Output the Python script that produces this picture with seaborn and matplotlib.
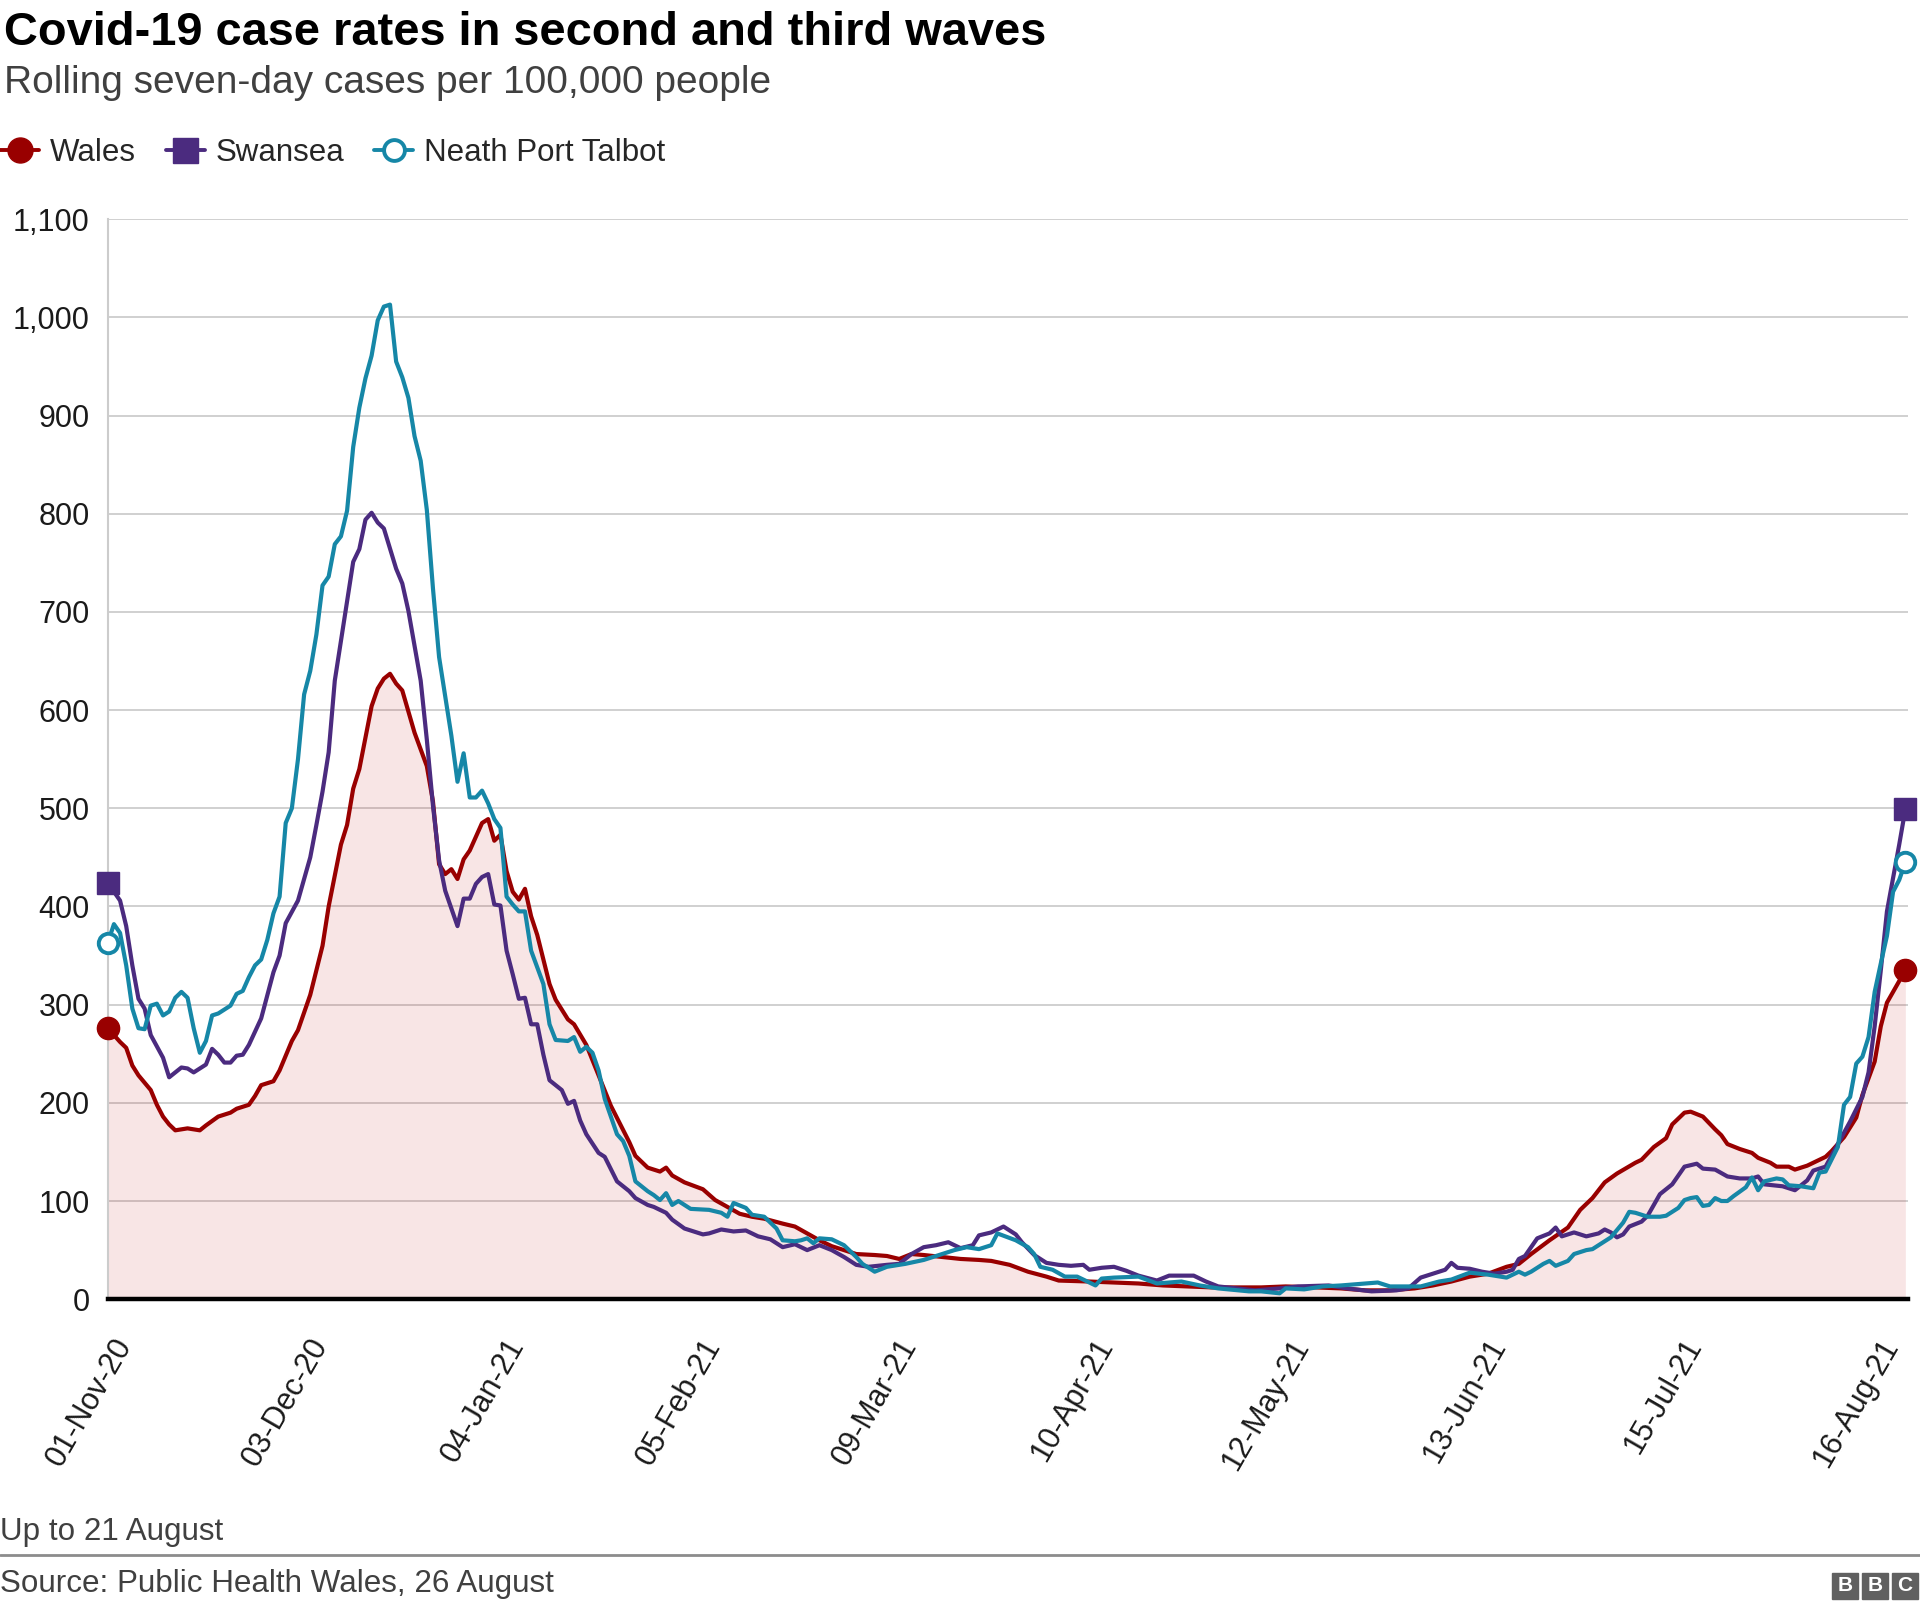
import pandas as pd
import seaborn as sns
import matplotlib.pyplot as plt
from matplotlib.lines import Line2D
from matplotlib.patches import Rectangle
from matplotlib.transforms import ScaledTranslation
import matplotlib.dates as mdates

# Data: day offsets from 01-Nov-20 and rolling 7-day rate
start_date = '2020-11-01'

wales_days = [0, 2, 3, 4, 5, 7, 8, 9, 10, 11, 13, 15, 16, 18, 20, 21, 23, 24, 25, 27,
              28, 30, 31, 33, 35, 36, 38, 39, 40, 41, 43, 44, 45, 46, 47, 48, 50, 52, 53, 54,
              55, 56, 57, 58, 59, 61, 62, 63, 64, 65, 66, 67, 68, 69, 70, 72, 73, 75, 76, 78,
              80, 82, 85, 86, 88, 90, 91, 92, 94, 97, 99, 101, 103, 105, 107, 110, 112, 114, 116, 118,
              120, 122, 125, 127, 129, 131, 133, 136, 139, 142, 144, 147, 150, 153, 155, 160, 164, 168, 172, 176,
              180, 184, 188, 192, 197, 201, 205, 209, 213, 216, 219, 222, 225, 228, 230, 232, 235, 238, 240, 242,
              244, 246, 249, 250, 252, 254, 255, 257, 258, 260, 262, 263, 264, 266, 268, 269, 271, 272, 274, 275,
              277, 279, 280, 281, 283, 285, 286, 288, 289, 290, 292, 293]
wales_rate = [276, 262, 256, 238, 228, 213, 198, 186, 178, 172, 174, 172, 177, 186, 190, 194, 198, 207, 218, 222,
              233, 263, 274, 310, 360, 400, 463, 483, 520, 540, 604, 622, 632, 637, 627, 620, 577, 543, 507, 443,
              433, 438, 428, 448, 457, 485, 489, 467, 473, 436, 415, 407, 418, 390, 371, 321, 305, 285, 280, 259,
              228, 197, 160, 146, 134, 130, 134, 126, 119, 112, 101, 94, 87, 84, 82, 77, 74, 67, 60, 54,
              50, 46, 45, 44, 41, 46, 45, 43, 41, 40, 39, 35, 28, 23, 19, 18, 17, 16, 14, 13,
              12, 12, 12, 13, 12, 11, 9, 9, 11, 14, 18, 23, 26, 33, 36, 46, 60, 73, 91, 103,
              119, 128, 139, 142, 155, 164, 178, 190, 191, 186, 173, 167, 158, 153, 149, 144, 139, 135, 135, 132,
              136, 142, 145, 151, 165, 185, 208, 242, 278, 302, 324, 335]

swansea_days = [0, 2, 3, 4, 5, 6, 7, 9, 10, 12, 13, 14, 16, 17, 18, 19, 20, 21, 22, 23,
                25, 27, 28, 29, 31, 33, 34, 35, 36, 37, 39, 40, 41, 42, 43, 44, 45, 47, 48, 49,
                51, 52, 53, 54, 55, 57, 58, 59, 60, 61, 62, 63, 64, 65, 66, 67, 68, 69, 70, 71,
                72, 74, 75, 76, 77, 78, 80, 81, 83, 85, 86, 88, 89, 91, 92, 94, 95, 97, 98, 100,
                102, 104, 106, 108, 110, 112, 114, 116, 118, 120, 122, 124, 127, 129, 131, 133, 135, 137, 139, 141,
                142, 144, 146, 148, 149, 151, 153, 155, 157, 159, 160, 162, 164, 166, 168, 171, 173, 175, 177, 179,
                181, 184, 187, 191, 194, 199, 202, 206, 210, 212, 214, 216, 217, 218, 219, 220, 222, 224, 226, 228,
                229, 230, 231, 233, 235, 236, 237, 239, 241, 243, 244, 245, 246, 247, 248, 250, 251, 253, 255, 256,
                257, 259, 260, 262, 264, 266, 268, 269, 270, 273, 275, 277, 278, 280, 282, 284, 286, 287, 288, 289,
                290, 292, 293]
swansea_rate = [424, 406, 380, 340, 306, 296, 269, 246, 226, 236, 235, 231, 239, 255, 249, 241, 241, 248, 249, 259,
                286, 333, 350, 383, 406, 450, 483, 517, 557, 630, 711, 751, 764, 794, 801, 791, 785, 744, 729, 701,
                630, 570, 503, 447, 416, 380, 408, 408, 423, 430, 433, 402, 401, 355, 331, 306, 307, 280, 280, 249,
                223, 213, 199, 202, 182, 168, 149, 145, 120, 110, 103, 96, 94, 88, 81, 72, 70, 66, 67, 71,
                69, 70, 64, 61, 53, 56, 50, 55, 50, 43, 35, 33, 35, 36, 46, 53, 55, 58, 52, 55,
                65, 68, 74, 66, 58, 45, 37, 35, 34, 35, 30, 32, 33, 29, 24, 19, 24, 24, 24, 18,
                13, 11, 9, 11, 13, 14, 11, 8, 9, 11, 22, 26, 28, 30, 37, 32, 31, 28, 26, 28,
                30, 41, 44, 62, 67, 73, 64, 68, 64, 67, 71, 68, 63, 66, 74, 79, 85, 107, 117, 126,
                135, 138, 133, 132, 125, 123, 123, 125, 117, 115, 111, 121, 131, 135, 158, 181, 206, 231, 278, 335,
                395, 463, 499]

npt_days = [0, 1, 2, 3, 4, 5, 6, 7, 8, 9, 10, 11, 12, 13, 14, 15, 16, 17, 18, 20,
            21, 22, 23, 24, 25, 26, 27, 28, 29, 30, 31, 32, 33, 34, 35, 36, 37, 38, 39, 40,
            41, 42, 43, 44, 45, 46, 47, 48, 49, 50, 51, 52, 53, 54, 55, 56, 57, 58, 59, 60,
            61, 62, 63, 64, 65, 66, 67, 68, 69, 71, 72, 73, 75, 76, 77, 78, 79, 80, 81, 83,
            84, 85, 86, 88, 89, 90, 91, 92, 93, 95, 98, 100, 101, 102, 104, 105, 107, 109, 110, 112,
            113, 114, 115, 116, 118, 120, 122, 123, 125, 127, 130, 133, 135, 138, 140, 142, 144, 145, 148, 150,
            151, 152, 154, 156, 158, 161, 162, 164, 168, 171, 175, 178, 181, 186, 188, 191, 192, 195, 198, 201,
            203, 207, 209, 212, 214, 217, 219, 222, 225, 227, 228, 230, 231, 232, 234, 235, 236, 238, 239, 241,
            242, 244, 245, 247, 248, 249, 251, 253, 254, 256, 257, 258, 259, 260, 261, 262, 263, 264, 265, 267,
            268, 269, 270, 272, 273, 274, 276, 278, 279, 280, 282, 283, 284, 285, 286, 287, 288, 289, 290, 291,
            292, 293]
npt_rate = [363, 382, 373, 340, 296, 276, 275, 299, 301, 289, 293, 307, 313, 307, 276, 251, 263, 289, 291, 299,
            311, 314, 328, 340, 346, 366, 393, 410, 485, 500, 550, 616, 640, 677, 727, 736, 769, 777, 803, 868,
            908, 938, 961, 997, 1011, 1013, 955, 939, 918, 879, 854, 804, 724, 654, 614, 574, 527, 556, 511, 511,
            518, 505, 489, 480, 410, 402, 395, 395, 355, 321, 280, 264, 263, 267, 252, 257, 251, 233, 204, 168,
            161, 146, 120, 110, 106, 101, 108, 96, 100, 92, 91, 88, 84, 98, 93, 86, 84, 72, 60, 59,
            60, 62, 57, 62, 61, 55, 43, 36, 28, 33, 36, 40, 44, 50, 53, 51, 55, 67, 60, 53,
            46, 33, 30, 23, 23, 14, 21, 22, 23, 16, 18, 14, 11, 8, 8, 6, 11, 10, 13, 14,
            15, 17, 13, 13, 13, 18, 20, 27, 25, 23, 22, 28, 25, 28, 36, 39, 34, 39, 46, 50,
            51, 59, 63, 78, 89, 88, 84, 84, 85, 93, 101, 103, 104, 95, 96, 103, 100, 100, 105, 114,
            124, 111, 120, 123, 122, 116, 115, 113, 129, 130, 155, 198, 206, 240, 247, 267, 313, 342, 370, 415,
            427, 445]

areas = ['Wales', 'Swansea', 'Neath Port Talbot']
colors = ['#990000', '#4b2b7f', '#1687a7']
x_tick_labels = ['01-Nov-20', '03-Dec-20', '04-Jan-21', '05-Feb-21', '09-Mar-21',
                 '10-Apr-21', '12-May-21', '13-Jun-21', '15-Jul-21', '16-Aug-21']
y_ticks = [0, 100, 200, 300, 400, 500, 600, 700, 800, 900, 1000, 1100]


def make_frame(name, days, rates):
    d = pd.DataFrame({'day': days, 'rate': rates})
    d['date'] = pd.Timestamp(start_date) + pd.to_timedelta(d['day'], unit='D')
    d['area'] = name
    return d


df = pd.concat([make_frame('Wales', wales_days, wales_rate),
                make_frame('Swansea', swansea_days, swansea_rate),
                make_frame('Neath Port Talbot', npt_days, npt_rate)], ignore_index=True)

sns.set_style('white')
plt.rcParams['font.family'] = ['Liberation Sans', 'DejaVu Sans']

W, H = 1920, 1609
fig = plt.figure(figsize=(W / 100, H / 100), dpi=100)
ax = fig.add_axes([107.8 / W, 1 - 1299.2 / H, 1800 / W, 1080 / H])

# pink area under the Wales line
wales = df[df['area'] == 'Wales']
ax.fill_between(wales['date'], 0, wales['rate'], color='#c00000', alpha=0.1, lw=0, zorder=1)

sns.lineplot(data=df, x='date', y='rate', hue='area', hue_order=areas,
             palette=dict(zip(areas, colors)), linewidth=3.0, estimator=None,
             legend=False, ax=ax, zorder=3)

# start / end markers
styles = {'Wales': dict(marker='o', ms=16, mfc='#990000', mec='#990000'),
          'Swansea': dict(marker='s', ms=16, mfc='#4b2b7f', mec='#4b2b7f'),
          'Neath Port Talbot': dict(marker='o', ms=14, mfc='white', mec='#1687a7', mew=2.8)}
for name in areas:
    sub = df[df['area'] == name]
    ax.plot(sub['date'].iloc[[0, -1]], sub['rate'].iloc[[0, -1]], ls='none',
            clip_on=False, zorder=5, **styles[name])

start = pd.Timestamp(start_date)
ax.set_xlim(mdates.date2num(start), mdates.date2num(start + pd.Timedelta(days=293.4)))
ax.set_ylim(0, 1100)
ax.set_yticks(y_ticks)
ax.set_yticklabels([f'{v:,}' for v in y_ticks])

ax.tick_params(axis='both', length=0, labelsize=22, colors='#1a1a1a')
ax.tick_params(axis='y', pad=13)
ax.tick_params(axis='x', pad=30)

tick_dates = pd.to_datetime(x_tick_labels, format='%d-%b-%y')
ax.set_xticks(tick_dates)
ax.set_xticklabels(x_tick_labels, rotation=60, ha='right', va='center', rotation_mode='anchor')
# labels sit a little right of their dates in the original
off = ScaledTranslation(17 / 100, 0, fig.dpi_scale_trans)
for lab in ax.xaxis.get_majorticklabels():
    lab.set_transform(lab.get_transform() + off)

ax.set_xlabel('')
ax.set_ylabel('')
ax.grid(axis='y', color='#d0d0d0', lw=1.4)
ax.grid(axis='x', visible=False)
ax.set_axisbelow(True)
for s in ['top', 'right']:
    ax.spines[s].set_visible(False)
ax.spines['left'].set_color('#cccccc')
ax.spines['left'].set_linewidth(1.5)
ax.spines['bottom'].set_color('black')
ax.spines['bottom'].set_linewidth(3.2)
ax.spines['bottom'].set_zorder(6)

# titles
fig.text(0.002, 1 - 45 / H, 'Covid-19 case rates in second and third waves',
         fontsize=33.8, fontweight='bold', color='black', va='baseline')
fig.text(0.002, 1 - 93 / H, 'Rolling seven-day cases per 100,000 people',
         fontsize=28, color='#404040', va='baseline')

leg_styles = {'Wales': dict(marker='o', ms=18, mfc='#990000', mec='#990000'),
              'Swansea': dict(marker='s', ms=18, mfc='#4b2b7f', mec='#4b2b7f'),
              'Neath Port Talbot': dict(marker='o', ms=15, mfc='white', mec='#1687a7', mew=2.8)}
handles = [Line2D([0], [0], color=c, lw=2.8, **leg_styles[n]) for n, c in zip(areas, colors)]
fig.legend(handles, areas, loc='center left', bbox_to_anchor=(0.0, 1 - 153 / H),
           ncol=3, frameon=False, fontsize=22.5, handlelength=1.25, handletextpad=0.35,
           columnspacing=0.95, borderaxespad=0, borderpad=0)

# footer
fig.text(0.0, 1 - 1540 / H, 'Up to 21 August', fontsize=22.6, color='#404040', va='baseline')
fig.add_artist(Line2D([0, 1], [1 - 1555 / H, 1 - 1555 / H], color='#8c8c8c', lw=2,
                      transform=fig.transFigure))
fig.text(0.0, 1 - 1592 / H, 'Source: Public Health Wales, 26 August', fontsize=22.6,
         color='#404040', va='baseline')
for i, letter in enumerate('BBC'):
    x0 = (1832 + i * 30) / W
    fig.add_artist(Rectangle((x0, 1 - 1599 / H), 26 / W, 26 / H, color='#606060',
                             transform=fig.transFigure))
    fig.text(x0 + 13 / W, 1 - 1585.5 / H, letter, color='white', fontsize=15,
             fontweight='bold', ha='center', va='center')

fig.savefig('out.png', dpi=100)
